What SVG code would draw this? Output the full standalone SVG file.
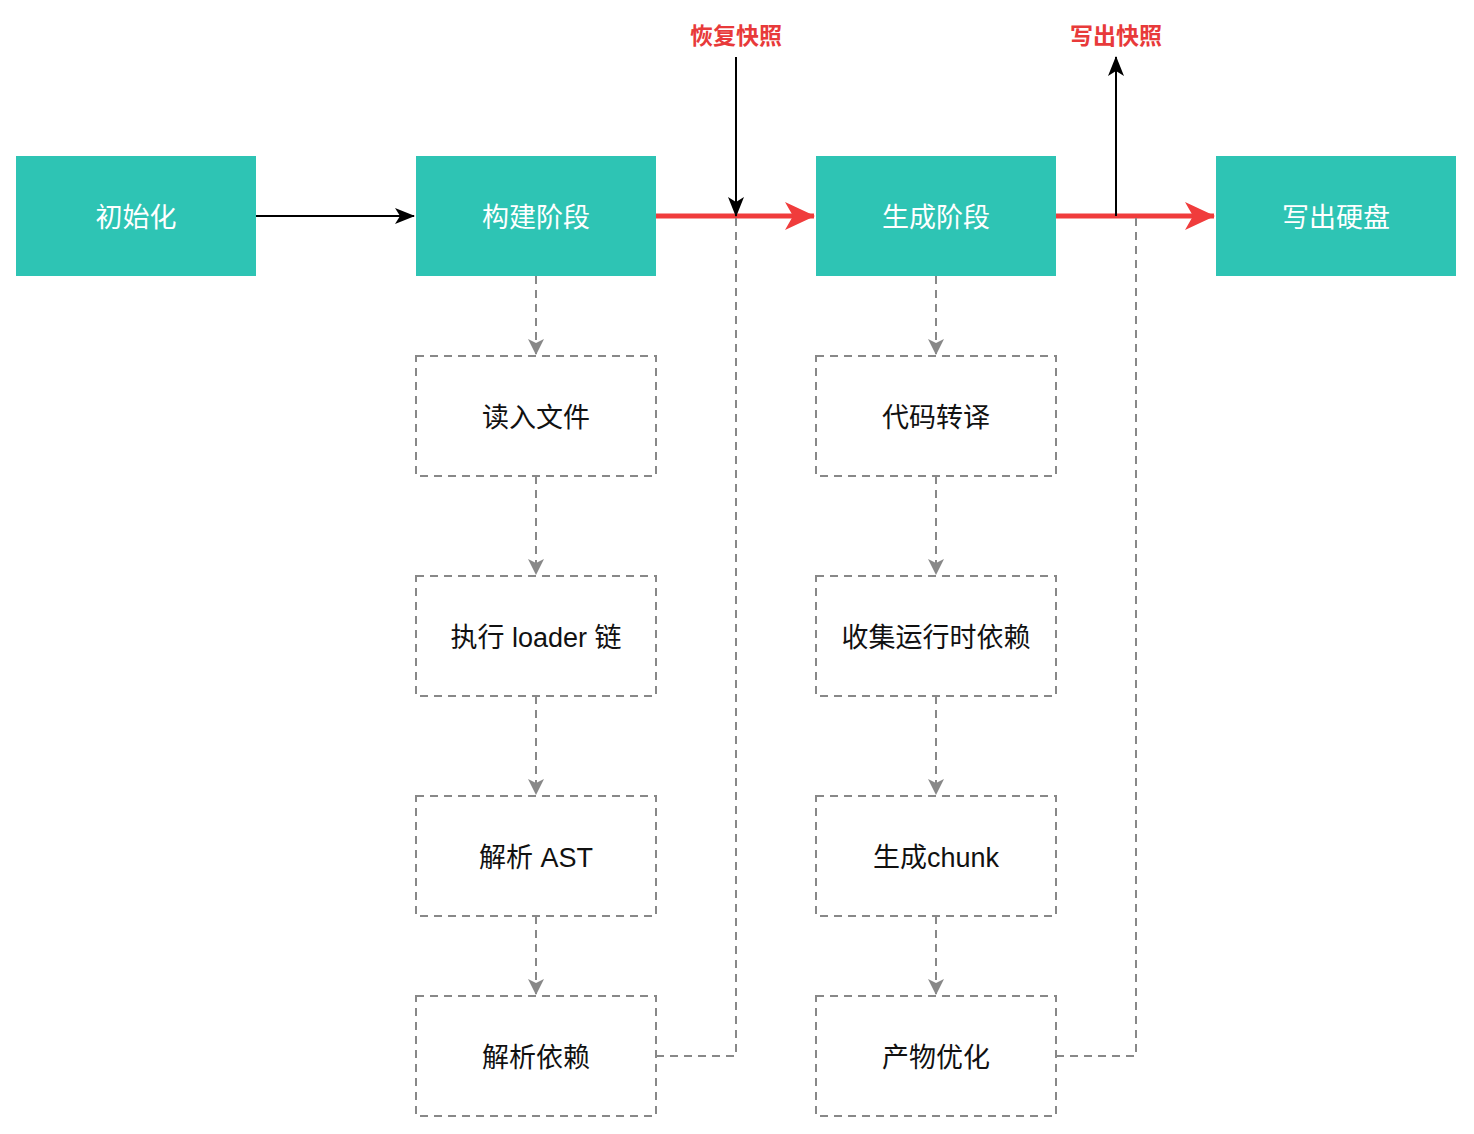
<svg xmlns="http://www.w3.org/2000/svg" width="1474" height="1134" viewBox="0 0 1474 1134">
<style>
.main{fill:#2ec4b4;}
.sub{fill:#fff;stroke:#888;stroke-width:2;stroke-dasharray:8 6;}
.t{font-family:"Liberation Sans","Noto Sans CJK SC",sans-serif;font-size:27px;text-anchor:middle;}
.tw{fill:#fff;}
.tb{fill:#111;}
.lbl{font-family:"Noto Sans CJK SC",sans-serif;font-size:23px;font-weight:bold;fill:#e83a3a;text-anchor:middle;}
.dash{fill:none;stroke:#888;stroke-width:2;stroke-dasharray:8 6;}
.blk{fill:none;stroke:#000;stroke-width:2;}
.red{fill:none;stroke:#f03c3c;stroke-width:5;}
</style>
<defs>
<marker id="abk" viewBox="0 0 20 16" markerWidth="20" markerHeight="16" refX="19" refY="8" orient="auto" markerUnits="userSpaceOnUse"><path d="M0,0 L20,8 L0,16 L5,8 Z" fill="#000"/></marker>
<marker id="ar" viewBox="0 0 30 28" markerWidth="30" markerHeight="28" refX="29" refY="14" orient="auto" markerUnits="userSpaceOnUse"><path d="M0,0 L30,14 L0,28 L8,14 Z" fill="#f03c3c"/></marker>
<marker id="ag" viewBox="0 0 16 16" markerWidth="16" markerHeight="16" refX="15" refY="8" orient="auto" markerUnits="userSpaceOnUse"><path d="M0,0 L16,8 L0,16 L4,8 Z" fill="#888"/></marker>
</defs>
<rect width="1474" height="1134" fill="#fff"/>
<g id="connectors">
<line class="blk" x1="256" y1="216" x2="414" y2="216" marker-end="url(#abk)"/>
<line class="red" x1="656" y1="216" x2="814" y2="216" marker-end="url(#ar)"/>
<line class="red" x1="1056" y1="216" x2="1214" y2="216" marker-end="url(#ar)"/>
<line class="blk" x1="736" y1="57" x2="736" y2="216" marker-end="url(#abk)"/>
<line class="blk" x1="1116" y1="216" x2="1116" y2="57" marker-end="url(#abk)"/>
<path class="dash" d="M656,1056 H736 V218"/>
<path class="dash" d="M1056,1056 H1136 V218"/>
<line class="dash" x1="536" y1="276" x2="536" y2="354" marker-end="url(#ag)"/>
<line class="dash" x1="536" y1="476" x2="536" y2="574" marker-end="url(#ag)"/>
<line class="dash" x1="536" y1="696" x2="536" y2="794" marker-end="url(#ag)"/>
<line class="dash" x1="536" y1="916" x2="536" y2="994" marker-end="url(#ag)"/>
<line class="dash" x1="936" y1="276" x2="936" y2="354" marker-end="url(#ag)"/>
<line class="dash" x1="936" y1="476" x2="936" y2="574" marker-end="url(#ag)"/>
<line class="dash" x1="936" y1="696" x2="936" y2="794" marker-end="url(#ag)"/>
<line class="dash" x1="936" y1="916" x2="936" y2="994" marker-end="url(#ag)"/>
</g>
<g id="label-restore"><text class="lbl" x="736" y="44">恢复快照</text></g>
<g id="label-write"><text class="lbl" x="1116" y="44">写出快照</text></g>
<g id="init"><rect class="main" x="16" y="156" width="240" height="120"/><text class="t tw" x="136" y="227">初始化</text></g>
<g id="build"><rect class="main" x="416" y="156" width="240" height="120"/><text class="t tw" x="536" y="227">构建阶段</text></g>
<g id="gen"><rect class="main" x="816" y="156" width="240" height="120"/><text class="t tw" x="936" y="227">生成阶段</text></g>
<g id="write"><rect class="main" x="1216" y="156" width="240" height="120"/><text class="t tw" x="1336" y="227">写出硬盘</text></g>
<g id="read"><rect class="sub" x="416" y="356" width="240" height="120"/><text class="t tb" x="536" y="427">读入文件</text></g>
<g id="loader"><rect class="sub" x="416" y="576" width="240" height="120"/><text class="t tb" x="536" y="647">执行 loader 链</text></g>
<g id="ast"><rect class="sub" x="416" y="796" width="240" height="120"/><text class="t tb" x="536" y="867">解析 AST</text></g>
<g id="deps"><rect class="sub" x="416" y="996" width="240" height="120"/><text class="t tb" x="536" y="1067">解析依赖</text></g>
<g id="transpile"><rect class="sub" x="816" y="356" width="240" height="120"/><text class="t tb" x="936" y="427">代码转译</text></g>
<g id="runtime"><rect class="sub" x="816" y="576" width="240" height="120"/><text class="t tb" x="936" y="647">收集运行时依赖</text></g>
<g id="chunk"><rect class="sub" x="816" y="796" width="240" height="120"/><text class="t tb" x="936" y="867">生成chunk</text></g>
<g id="optimize"><rect class="sub" x="816" y="996" width="240" height="120"/><text class="t tb" x="936" y="1067">产物优化</text></g>
</svg>
